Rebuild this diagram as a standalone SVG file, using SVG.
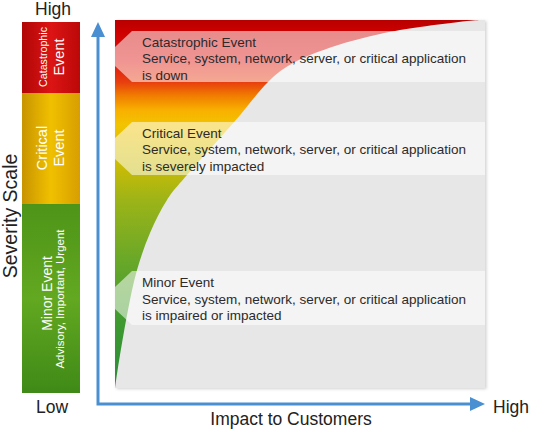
<svg xmlns="http://www.w3.org/2000/svg" width="534" height="430" viewBox="0 0 534 430">
<defs>
<style>
.ax{font-family:"Liberation Sans",Arial,sans-serif;font-size:17.5px;fill:#222}
.bt{font-family:"Liberation Sans",Arial,sans-serif;font-size:13.5px;fill:#2b2b2b}
.bl{font-family:"Liberation Sans",Arial,sans-serif;fill:#fff;text-anchor:middle}
.band{fill:#fff;fill-opacity:0.55}
.axis{fill:none;stroke:#4a8fd2;stroke-width:3}
</style>
<linearGradient id="gHeat" gradientUnits="userSpaceOnUse" x1="0" y1="20" x2="0" y2="388">
<stop offset="0" stop-color="#b80000"/>
<stop offset="0.03" stop-color="#cc0000"/>
<stop offset="0.11" stop-color="#de1410"/>
<stop offset="0.17" stop-color="#e8400e"/>
<stop offset="0.205" stop-color="#f07c00"/>
<stop offset="0.245" stop-color="#f8b000"/>
<stop offset="0.285" stop-color="#f2c400"/>
<stop offset="0.41" stop-color="#c4ba08"/>
<stop offset="0.49" stop-color="#9cb418"/>
<stop offset="0.65" stop-color="#6aa828"/>
<stop offset="0.82" stop-color="#3e9a30"/>
<stop offset="1" stop-color="#2a8c38"/>
</linearGradient>
<linearGradient id="gRed" x1="0" y1="0" x2="1" y2="0">
<stop offset="0" stop-color="#b00606"/>
<stop offset="0.5" stop-color="#dc1414"/>
<stop offset="1" stop-color="#bc0808"/>
</linearGradient>
<linearGradient id="gYel" x1="0" y1="0" x2="1" y2="0">
<stop offset="0" stop-color="#c89400"/>
<stop offset="0.5" stop-color="#f0c000"/>
<stop offset="1" stop-color="#d89e00"/>
</linearGradient>
<linearGradient id="gGrn" x1="0" y1="0" x2="0" y2="1">
<stop offset="0" stop-color="#4e9418"/>
<stop offset="0.5" stop-color="#62a820"/>
<stop offset="1" stop-color="#3f8a18"/>
</linearGradient>
<filter id="sh" x="-5%" y="-5%" width="110%" height="110%">
<feDropShadow dx="1.5" dy="1" stdDeviation="1.5" flood-color="#000" flood-opacity="0.18"/>
</filter>
<marker id="ah" viewBox="0 0 15 14" markerWidth="15" markerHeight="14" refX="0" refY="7" orient="auto-start-reverse" markerUnits="userSpaceOnUse">
<path d="M0,0 L15,7 L0,14 Z" fill="#4a8fd2"/>
</marker>
</defs>
<rect width="534" height="430" fill="#fff"/>

<g id="severity-scale">
<rect x="22" y="22" width="58" height="71" fill="url(#gRed)"/>
<rect x="22" y="93" width="58" height="111" fill="url(#gYel)"/>
<rect x="22" y="204" width="58" height="189" fill="url(#gGrn)"/>
<text class="bl" font-size="10.7" transform="translate(47,57) rotate(-90)">Catastrophic</text>
<text class="bl" font-size="14.5" transform="translate(63.5,57) rotate(-90)">Event</text>
<text class="bl" font-size="14.5" transform="translate(46.5,148) rotate(-90)">Critical</text>
<text class="bl" font-size="14.5" transform="translate(63.5,148) rotate(-90)">Event</text>
<text class="bl" font-size="14" transform="translate(51.5,293.5) rotate(-90)">Minor Event</text>
<text class="bl" font-size="11.5" transform="translate(63.5,299) rotate(-90)">Advisory, Important, Urgent</text>
<text class="ax" x="53" y="15" text-anchor="middle">High</text>
<text class="ax" x="52" y="413" text-anchor="middle">Low</text>
<text class="ax" text-anchor="middle" transform="translate(17,216) rotate(-90)" style="font-size:19.5px">Severity Scale</text>
</g>

<g id="chart">
<rect x="115" y="20" width="370" height="368" fill="#e7e7e7" filter="url(#sh)"/>
<path id="heat" fill="url(#gHeat)" d="M115,388 C115.8,382.5 117.8,368 120,355 C122.2,342 125.2,324.2 128,310 C130.8,295.8 133.3,282.8 137,270 C140.7,257.2 145,244.7 150,233 C155,221.3 160.8,209.7 167,200 C173.2,190.3 175.7,188.2 187,175 C198.3,161.8 221.5,136.5 235,121 C248.5,105.5 258,91.8 268,82 C278,72.2 283.8,68 295,62 C306.2,56 320.8,50.7 335,46 C349.2,41.3 365.8,37.2 380,34 C394.2,30.8 405.5,29.2 420,27 C434.5,24.8 455.8,22.3 467,21 C476,20.2 480,20 483,20 L115,20 Z"/>
<g id="catastrophic-event">
<path class="band" d="M132,31 L485,31 L485,82 L132,82 L115,66 L115,47 Z"/>
<text class="bt" x="142" y="46.5">Catastrophic Event</text>
<text class="bt" x="142" y="63">Service, system, network, server, or critical application</text>
<text class="bt" x="142" y="79.5">is down</text>
</g>
<g id="critical-event">
<path class="band" d="M132,122 L485,122 L485,175 L132,175 L115,159 L115,138 Z"/>
<text class="bt" x="142" y="137.5">Critical Event</text>
<text class="bt" x="142" y="154">Service, system, network, server, or critical application</text>
<text class="bt" x="142" y="170.5">is severely impacted</text>
</g>
<g id="minor-event">
<path class="band" d="M132,271 L485,271 L485,325 L132,325 L115,309 L115,287 Z"/>
<text class="bt" x="142" y="287">Minor Event</text>
<text class="bt" x="142" y="303.5">Service, system, network, server, or critical application</text>
<text class="bt" x="142" y="320">is impaired or impacted</text>
</g>
</g>

<g id="connectors">
<path class="axis" d="M98,37 L98,404 L470,404" marker-start="url(#ah)" marker-end="url(#ah)"/>
</g>
<text class="ax" x="493" y="413">High</text>
<text class="ax" x="291" y="425" text-anchor="middle">Impact to Customers</text>
</svg>
